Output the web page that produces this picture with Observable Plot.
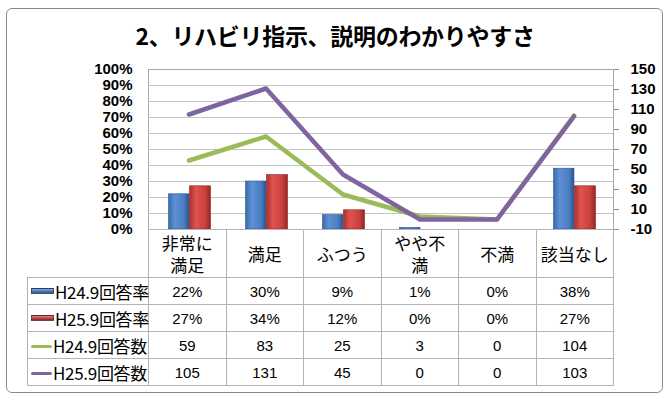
<!DOCTYPE html>
<html><head><meta charset="utf-8">
<script src="https://cdn.jsdelivr.net/npm/d3@7"></script>
<script src="https://cdn.jsdelivr.net/npm/@observablehq/plot@0.6"></script>
<style>
body{margin:0;width:670px;height:400px;background:#fff;position:relative;overflow:hidden;font-family:"Liberation Sans",Arial,sans-serif}
#frame{position:absolute;left:6px;top:8px;width:657px;height:385px;border:1.5px solid #8a8a8a;border-radius:6px;box-sizing:border-box}
#title{position:absolute;left:0;top:22px;width:670px;text-align:center;font:bold 23px/26px "Noto Sans CJK JP",sans-serif;color:#000;letter-spacing:-0.3px}
#chart{position:absolute;left:0;top:50px}
#tbl{position:absolute;left:27px;top:229px;border-collapse:collapse;table-layout:fixed;width:586px}
#tbl td{border:1px solid #b4b4b4;padding:0;text-align:center;color:#000}
#tbl tr.head td{height:47px;font:17px/22px "Noto Sans CJK JP",sans-serif;white-space:pre-line}
#tbl tr.head td.corner{border:none}
#tbl tr.data td{height:26px;font:15px "Liberation Sans",Arial,sans-serif}
#tbl tr.data td.name{text-align:left;padding-left:3px;font:17px "Noto Sans CJK JP",sans-serif;white-space:nowrap;letter-spacing:-0.3px}
.key{display:inline-block;width:21px;vertical-align:middle;margin-right:1px;position:relative}
</style></head>
<body>
<svg width="0" height="0" style="position:absolute"><defs>
<linearGradient id="gradBlue" x1="0" x2="1" y1="0" y2="0">
<stop offset="0" stop-color="#3a69a8"/><stop offset="0.3" stop-color="#5d90d6"/><stop offset="0.75" stop-color="#4a7dc2"/><stop offset="1" stop-color="#2b5690"/>
</linearGradient>
<linearGradient id="gradRed" x1="0" x2="1" y1="0" y2="0">
<stop offset="0" stop-color="#a8302d"/><stop offset="0.3" stop-color="#e0534f"/><stop offset="0.75" stop-color="#c9403d"/><stop offset="1" stop-color="#932624"/>
</linearGradient>
</defs></svg>
<div id="frame"></div>
<div id="title">2、リハビリ指示、説明のわかりやすさ</div>
<div id="chart"></div>
<table id="tbl"></table>
<script>
const categories = ["非常に満足","満足","ふつう","やや不満","不満","該当なし"];
const categoryLabels = ["非常に\n満足","満足","ふつう","やや不\n満","不満","該当なし"];
const seriesNames = ["H24.9回答率","H25.9回答率","H24.9回答数","H25.9回答数"];
const rateH24 = [0.22,0.30,0.09,0.01,0.00,0.38];
const rateH25 = [0.27,0.34,0.12,0.00,0.00,0.27];
const countH24 = [59,83,25,3,0,104];
const countH25 = [105,131,45,0,0,103];
const leftTicks = [0,0.1,0.2,0.3,0.4,0.5,0.6,0.7,0.8,0.9,1];
const rightTicks = [-10,10,30,50,70,90,110,130,150];
const rightDomain = [-10,150];
const seriesColors = ["#4f81bd","#c0504d","#9bbb59","#8064a2"];

const toRight = v => (v - rightDomain[0]) / (rightDomain[1] - rightDomain[0]);
const fromRight = t => Math.round(t * (rightDomain[1] - rightDomain[0]) + rightDomain[0]);

const rows = categories.map((c,i)=>({category:c, rateH24:rateH24[i], rateH25:rateH25[i], countH24:countH24[i], countH25:countH25[i]}));

const chart = Plot.plot({
  width:670, height:190,
  marginTop:19, marginBottom:11, marginLeft:148, marginRight:57,
  style:{fontFamily:"'Liberation Sans', Arial, sans-serif", fontSize:"15px", fontWeight:"bold", color:"#000", background:"transparent"},
  x:{domain:categories, padding:0, axis:null},
  y:{domain:[0,1]},
  marks:[
    Plot.gridY(leftTicks, {stroke:"#c4c4c4", strokeOpacity:1}),
    Plot.frame({stroke:"#a8a8a8"}),
    Plot.axisY(leftTicks, {tickFormat:d=>Math.round(d*100)+"%", tickSize:0, tickPadding:16}),
    Plot.axisY(rightTicks.map(toRight), {anchor:"right", tickFormat:fromRight, tickSize:5, tickPadding:12, stroke:"#8a8a8a"}),
    Plot.barY(rows, {x:"category", y:"rateH24", fill:"url(#gradBlue)", stroke:"#2c5690", strokeWidth:0.6, insetLeft:18.5, insetRight:38}),
    Plot.barY(rows, {x:"category", y:"rateH25", fill:"url(#gradRed)", stroke:"#8c2422", strokeWidth:0.6, insetLeft:39.5, insetRight:16.5}),
    Plot.lineY(rows, {x:"category", y:d=>toRight(d.countH24), stroke:seriesColors[2], strokeWidth:4.5}),
    Plot.lineY(rows, {x:"category", y:d=>toRight(d.countH25), stroke:seriesColors[3], strokeWidth:4.5})
  ]
});
document.getElementById("chart").appendChild(chart);

// data table
const seriesValues = [rateH24, rateH25, countH24, countH25];
const seriesKinds = ["bar","bar","line","line"];
const keyBg = ["linear-gradient(#7aa6e0,#4f81bd,#2b5690)","linear-gradient(#e07b78,#c0504d,#8c2422)"];
let html = "<colgroup><col style='width:121px'>" + categories.map(()=>"<col style='width:77.5px'>").join("") + "</colgroup>";
html += "<tr class='head'><td class='corner'></td>" + categoryLabels.map(l=>`<td>${l}</td>`).join("") + "</tr>";
seriesNames.forEach((name,si)=>{
  const key = seriesKinds[si]==="bar"
    ? `<span class="key" style="height:4px;top:-3px;background:${keyBg[si]};border:1px solid #333a;"></span>`
    : `<span class="key" style="height:3px;top:-1px;background:${seriesColors[si]};border-radius:2px"></span>`;
  const fmt = seriesKinds[si]==="bar" ? (v=>Math.round(v*100)+"%") : (v=>String(v));
  html += `<tr class="data"><td class="name">${key}${name}</td>` + seriesValues[si].map(v=>`<td>${fmt(v)}</td>`).join("") + "</tr>";
});
document.getElementById("tbl").innerHTML = html;
</script>
</body></html>
